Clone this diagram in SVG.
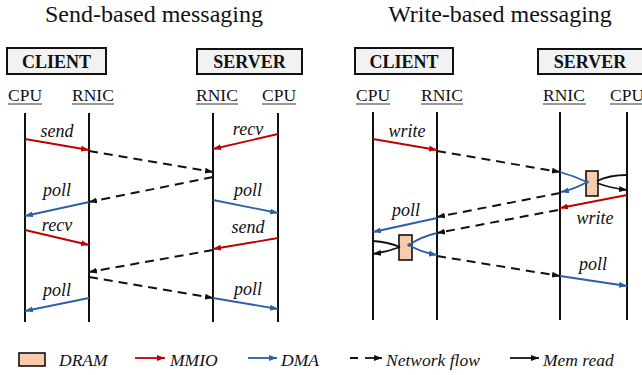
<svg xmlns="http://www.w3.org/2000/svg" width="642" height="375" viewBox="0 0 642 375" font-family="'Liberation Serif', 'DejaVu Serif', serif">
  <style>
    text { font-family: "Liberation Serif", "DejaVu Serif", serif; fill: #111; }
    .title { font-size: 24px; text-anchor: middle; }
    .role { font-size: 18px; font-weight: bold; text-anchor: middle; }
    .unit { font-size: 17.5px; }
    .lbl { font-size: 18px; font-style: italic; text-anchor: middle; }
    .leg { font-size: 17.5px; font-style: italic; }
    .box { fill: #f2f2f2; stroke: #111; stroke-width: 2; }
    .life { stroke: #111; stroke-width: 2; }
    .ul { stroke: #333; stroke-width: 1; }
    .mmio { stroke: #c00000; stroke-width: 1.8; fill: none; marker-end: url(#ah-red); }
    .dma { stroke: #2f5ea8; stroke-width: 1.8; fill: none; marker-end: url(#ah-blue); }
    .dma-open { stroke: #2f5ea8; stroke-width: 1.8; fill: none; }
    .net { stroke: #111; stroke-width: 2; stroke-dasharray: 9 6; fill: none; marker-end: url(#ah-black); }
    .mem { stroke: #111; stroke-width: 1.8; fill: none; }
    .mem-end { stroke: #111; stroke-width: 1.8; fill: none; marker-end: url(#ah-black); }
    .dram { fill: #f8cbad; stroke: #111; stroke-width: 1.6; }
  </style>
  <defs>
    <marker id="ah-red" viewBox="0 0 8 6" refX="8" refY="3" markerWidth="8" markerHeight="6" markerUnits="userSpaceOnUse" orient="auto">
      <path d="M0,0 L8,3 L0,6 z" fill="#c00000"/>
    </marker>
    <marker id="ah-blue" viewBox="0 0 8 6" refX="8" refY="3" markerWidth="8" markerHeight="6" markerUnits="userSpaceOnUse" orient="auto">
      <path d="M0,0 L8,3 L0,6 z" fill="#2f5ea8"/>
    </marker>
    <marker id="ah-black" viewBox="0 0 8 6" refX="8" refY="3" markerWidth="8" markerHeight="6" markerUnits="userSpaceOnUse" orient="auto">
      <path d="M0,0 L8,3 L0,6 z" fill="#111"/>
    </marker>
  </defs>

  <rect width="642" height="375" fill="#ffffff"/>

  <!-- Titles -->
  <text class="title" x="154" y="22">Send-based messaging</text>
  <text class="title" x="500" y="22">Write-based messaging</text>

  <!-- Send-based: hosts and lifelines -->
  <g id="send-client">
    <rect class="box" x="7" y="48" width="99" height="26"/>
    <text class="role" x="56.5" y="68">CLIENT</text>
    <text class="unit" x="8" y="101">CPU</text>
    <line class="ul" x1="8" y1="104" x2="42" y2="104"/>
    <text class="unit" x="72" y="101">RNIC</text>
    <line class="ul" x1="72" y1="104" x2="114" y2="104"/>
    <line class="life" x1="25" y1="113" x2="25" y2="322"/>
    <line class="life" x1="89" y1="113" x2="89" y2="322"/>
  </g>
  <g id="send-server">
    <rect class="box" x="197" y="49" width="105" height="25"/>
    <text class="role" x="249.5" y="68">SERVER</text>
    <text class="unit" x="196" y="101">RNIC</text>
    <line class="ul" x1="196" y1="104" x2="238" y2="104"/>
    <text class="unit" x="262" y="101">CPU</text>
    <line class="ul" x1="262" y1="104" x2="296" y2="104"/>
    <line class="life" x1="213" y1="113" x2="213" y2="322"/>
    <line class="life" x1="278" y1="113" x2="278" y2="322"/>
  </g>

  <!-- Write-based: hosts, lifelines and DRAM buffers -->
  <g id="write-client">
    <rect class="box" x="355" y="48" width="98" height="26"/>
    <text class="role" x="404" y="68">CLIENT</text>
    <text class="unit" x="356" y="101">CPU</text>
    <line class="ul" x1="356" y1="104" x2="390" y2="104"/>
    <text class="unit" x="421" y="101">RNIC</text>
    <line class="ul" x1="421" y1="104" x2="463" y2="104"/>
    <line class="life" x1="373" y1="112" x2="373" y2="320"/>
    <line class="life" x1="437" y1="112" x2="437" y2="320"/>
  </g>
  <g id="write-server">
    <rect class="box" x="538" y="49" width="106" height="25"/>
    <text class="role" x="590" y="68">SERVER</text>
    <text class="unit" x="543" y="101">RNIC</text>
    <line class="ul" x1="543" y1="104" x2="586" y2="104"/>
    <text class="unit" x="610" y="101">CPU</text>
    <line class="ul" x1="610" y1="104" x2="644" y2="104"/>
    <line class="life" x1="560" y1="112" x2="560" y2="320"/>
    <line class="life" x1="627" y1="112" x2="627" y2="320"/>
  </g>
  <g id="dram-server">
    <rect class="dram" x="586" y="171" width="12" height="25"/>
  </g>
  <g id="dram-client">
    <rect class="dram" x="399" y="235" width="13" height="25"/>
  </g>

  <!-- Connectors -->
  <g id="connectors">
    <!-- send-based -->
    <line class="mmio" x1="25" y1="139" x2="89" y2="150"/>
    <line class="net" x1="89" y1="151" x2="213" y2="172"/>
    <line class="mmio" x1="278" y1="134" x2="213" y2="149"/>
    <line class="net" x1="213" y1="177" x2="89" y2="202"/>
    <line class="dma" x1="89" y1="202" x2="25" y2="216"/>
    <line class="dma" x1="213" y1="200" x2="278" y2="213"/>
    <line class="mmio" x1="25" y1="230" x2="89" y2="245"/>
    <line class="mmio" x1="278" y1="238" x2="213" y2="249"/>
    <line class="net" x1="213" y1="250" x2="89" y2="272"/>
    <line class="net" x1="89" y1="277" x2="213" y2="298"/>
    <line class="dma" x1="89" y1="298" x2="25" y2="311"/>
    <line class="dma" x1="213" y1="298" x2="278" y2="309"/>

    <!-- write-based -->
    <line class="mmio" x1="373" y1="139" x2="437" y2="150"/>
    <line class="net" x1="437" y1="151" x2="560" y2="172"/>
    <path class="dma-open" d="M560,172 Q574,176 587,182"/>
    <path class="dma" d="M587,182 Q575,189 561,192"/>
    <circle cx="587" cy="182" r="1.8" fill="#2f5ea8"/>
    <path class="mem" d="M627,175 Q609,175 597,181"/>
    <path class="mem-end" d="M597,183 Q610,188 627,190"/>
    <line class="net" x1="560" y1="193" x2="437" y2="217"/>
    <line class="mmio" x1="627" y1="195" x2="560" y2="208"/>
    <line class="net" x1="558" y1="210" x2="437" y2="233"/>
    <line class="dma" x1="437" y1="218" x2="373" y2="232"/>
    <path class="dma-open" d="M437,233 Q420,237 409,245"/>
    <path class="dma" d="M409,245 Q420,252 437,255"/>
    <circle cx="409" cy="245" r="1.8" fill="#2f5ea8"/>
    <path class="mem" d="M373,241 Q388,242 400,247"/>
    <path class="mem-end" d="M400,247 Q387,252 373,254"/>
    <line class="net" x1="437" y1="256" x2="560" y2="276"/>
    <line class="dma" x1="560" y1="276" x2="627" y2="286"/>
  </g>

  <!-- Operation labels -->
  <g id="labels">
    <text class="lbl" x="57" y="137">send</text>
    <text class="lbl" x="248" y="135">recv</text>
    <text class="lbl" x="57" y="196">poll</text>
    <text class="lbl" x="248" y="196">poll</text>
    <text class="lbl" x="57" y="231">recv</text>
    <text class="lbl" x="248" y="233">send</text>
    <text class="lbl" x="57" y="296">poll</text>
    <text class="lbl" x="248" y="295">poll</text>
    <text class="lbl" x="407" y="137">write</text>
    <text class="lbl" x="595" y="224">write</text>
    <text class="lbl" x="406" y="216">poll</text>
    <text class="lbl" x="593" y="270">poll</text>
  </g>

  <!-- Legend -->
  <g id="legend">
    <rect class="dram" x="19" y="353" width="26" height="13"/>
    <text class="leg" x="59" y="366">DRAM</text>
    <line class="mmio" x1="135" y1="358" x2="165" y2="358"/>
    <text class="leg" x="170" y="366">MMIO</text>
    <line class="dma" x1="248" y1="358" x2="277" y2="358"/>
    <text class="leg" x="281" y="366">DMA</text>
    <line stroke="#111" stroke-width="2" x1="350" y1="358" x2="358" y2="358"/>
    <line class="mem-end" x1="365" y1="358" x2="382" y2="358"/>
    <text class="leg" x="386" y="366">Network flow</text>
    <line class="mem-end" x1="510" y1="358" x2="539" y2="358"/>
    <text class="leg" x="543" y="366">Mem read</text>
  </g>
</svg>
